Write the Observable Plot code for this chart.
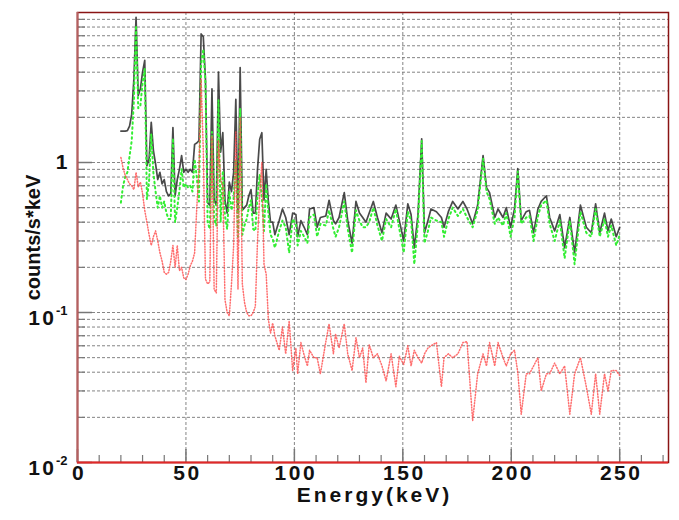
<!DOCTYPE html>
<html>
<head>
<meta charset="utf-8">
<script src="https://cdn.jsdelivr.net/npm/d3@7"></script>
<script src="https://cdn.jsdelivr.net/npm/@observablehq/plot@0.6"></script>
<style>
  html, body { margin: 0; padding: 0; background: #fff; }
  #chart svg { display: block; background: #fff; }
</style>
</head>
<body>
<div id="chart"></div>
<script>
// Energy bins (keV)
const energy = [
  20,21,22,23,24,25,26,27,28,29,
  30,31,32,33,34,35,36,37,38,39,
  40,41,42,43,44,45,46,47,48,49,
  50,51,52,53,54,55,56,57,58,59,
  60,61,62,63,64,65,66,67,68,69,
  70,71,72,73,74,75,76,77,78,79,
  80,81,82,83,84,85,86,87,88,89,
  90,
  91,93,94.5,96,97.6,99.2,100.7,101.5,103,104.5,
  106,107,109,110.5,112,114.5,116,118,119,120.6,
  123,124.6,126.6,128.4,130,131.5,133,134.5,136.4,138.3,
  140.4,142.3,144.6,146.8,148.4,150.4,152.3,153.8,155.3,157,
  158.7,160,161.6,163,165.5,167.8,169,171,173,175.4,
  177.7,179.6,182.2,184.5,187,188.6,190,192.4,193.9,196.2,
  197.7,199.7,201.5,203,204.6,206.9,208.4,210.3,212.3,213.8,
  216.2,217.7,220,222.4,224.6,227,229.2,231.9,234.6,236.9,
  238.9,240.8,243,244.6,246.1,248.4,250
];

// Total rate (black solid)
const totalRate = [
  1.62,1.62,1.62,1.63,1.75,2.1,3.6,9.3,2.8,3.1,
  4.0,4.8,0.95,1.05,1.85,1.2,0.98,0.77,0.86,0.72,
  0.77,0.64,0.60,0.62,1.71,0.60,0.77,0.90,1.11,0.86,
  0.90,0.86,0.90,0.86,1.32,1.35,1.4,7.2,6.9,3.6,
  0.54,0.52,3.1,0.56,0.52,4.0,1.17,1.58,0.56,0.46,
  0.74,0.64,0.86,2.64,0.46,4.3,0.48,0.50,0.52,0.60,
  0.66,0.46,0.46,0.9,1.43,1.58,0.56,0.90,0.55,0.40,
  0.40,
  0.33,0.41,0.49,0.43,0.33,0.46,0.45,0.32,0.41,0.37,
  0.33,0.49,0.50,0.37,0.43,0.44,0.56,0.41,0.39,0.43,
  0.63,0.41,0.29,0.55,0.46,0.43,0.40,0.46,0.55,0.43,
  0.34,0.46,0.42,0.52,0.41,0.30,0.53,0.45,0.27,0.45,
  1.44,0.34,0.41,0.49,0.47,0.43,0.37,0.47,0.55,0.49,
  0.55,0.49,0.39,0.52,1.11,0.68,0.63,0.43,0.49,0.43,
  0.50,0.37,0.49,0.91,0.41,0.47,0.48,0.34,0.49,0.55,
  0.60,0.43,0.35,0.45,0.27,0.43,0.25,0.52,0.37,0.34,
  0.53,0.34,0.46,0.35,0.42,0.32,0.37
];

// Green dotted component
const greenRate = [
  0.54,0.70,0.80,0.86,1.1,1.4,2.6,8.2,2.3,2.4,
  3.4,4.2,0.57,0.75,1.55,0.85,0.64,0.5,0.6,0.5,
  0.55,0.46,0.42,0.42,1.45,0.40,0.50,0.65,0.9,0.68,
  0.72,0.68,0.70,0.64,1.05,0.8,0.55,4.5,5.7,3.4,
  0.4,0.36,1.6,0.42,0.38,2.6,0.4,0.88,0.44,0.36,
  0.64,0.48,0.58,1.04,0.32,2.3,0.33,0.38,0.42,0.5,
  0.56,0.36,0.35,0.6,0.83,0.58,0.35,0.72,0.46,0.33,
  0.31,
  0.27,0.35,0.41,0.37,0.25,0.42,0.39,0.28,0.35,0.32,
  0.29,0.43,0.45,0.32,0.39,0.38,0.48,0.36,0.32,0.37,
  0.55,0.36,0.25,0.48,0.41,0.37,0.37,0.40,0.50,0.38,
  0.30,0.42,0.37,0.49,0.36,0.25,0.47,0.41,0.21,0.40,
  1.39,0.29,0.35,0.43,0.41,0.40,0.32,0.42,0.50,0.44,
  0.49,0.43,0.37,0.48,1.06,0.64,0.57,0.39,0.43,0.38,
  0.46,0.32,0.43,0.87,0.39,0.43,0.44,0.30,0.44,0.52,
  0.56,0.39,0.30,0.41,0.23,0.41,0.21,0.47,0.34,0.32,
  0.49,0.32,0.42,0.32,0.38,0.28,0.33
];

// Red dotted component
const redRate = [
  1.08,0.92,0.82,0.77,0.72,0.70,0.66,0.86,0.69,0.74,
  0.62,0.48,0.40,0.33,0.28,0.32,0.35,0.30,0.25,0.22,
  0.185,0.18,0.185,0.22,0.28,0.20,0.28,0.19,0.20,0.17,
  0.166,0.18,0.205,0.22,0.25,0.5,0.9,3.6,1.2,0.167,
  0.155,0.16,1.5,0.143,0.135,1.4,0.77,0.70,0.122,0.10,
  0.095,0.155,0.28,1.6,0.143,2.0,0.155,0.117,0.10,0.095,
  0.095,0.10,0.11,0.3,0.6,1.0,0.21,0.18,0.09,0.073,
  0.085,
  0.07,0.056,0.080,0.053,0.088,0.041,0.058,0.039,0.063,0.052,
  0.044,0.056,0.05,0.05,0.039,0.064,0.084,0.053,0.072,0.058,
  0.084,0.053,0.041,0.068,0.050,0.058,0.034,0.061,0.050,0.053,
  0.044,0.035,0.053,0.032,0.051,0.045,0.060,0.044,0.056,0.050,
  0.046,0.053,0.058,0.060,0.063,0.032,0.050,0.053,0.050,0.053,
  0.063,0.064,0.019,0.039,0.053,0.044,0.063,0.044,0.063,0.050,
  0.044,0.053,0.056,0.040,0.021,0.039,0.039,0.044,0.050,0.030,
  0.039,0.039,0.046,0.039,0.044,0.021,0.039,0.050,0.032,0.021,
  0.039,0.021,0.039,0.030,0.041,0.041,0.038
];

// Axis ticks
const xMajorTicks = [0, 50, 100, 150, 200, 250];
const xMinorTicks = [10,20,30,40,60,70,80,90,110,120,130,140,160,170,180,190,210,220,230,240,260,270];
const yMajorTicks = [0.01, 0.1, 1];
const yMinorTicks = [0.02,0.03,0.04,0.05,0.06,0.07,0.08,0.09,0.2,0.3,0.4,0.5,0.6,0.7,0.8,0.9,2,3,4,5,6,7,8,9];
const yPowerLabels = [{v: 0.01, base: "10", exp: "-2"}, {v: 0.1, base: "10", exp: "-1"}];
const yPlainLabels = [{v: 1, text: "1"}];
const xTitle = "Energy(keV)";
const yTitle = "counts/s*keV";

const rows = energy.map((e, i) => ({e, total: totalRate[i], green: greenRate[i], red: redRate[i]}));

const font = "'Liberation Sans', Arial, Helvetica, sans-serif";
const W = 679, H = 520, mL = 77, mR = 11, mT = 12, mB = 58;
const fw = W - mL - mR, fh = H - mT - mB;
const gridStyle = {stroke: "#777", strokeOpacity: 0.9, strokeWidth: 1, strokeDasharray: "3,2"};

const chart = Plot.plot({
  width: W, height: H,
  marginLeft: mL, marginRight: mR, marginTop: mT, marginBottom: mB,
  style: {fontFamily: font, background: "#fff"},
  x: {domain: [0, 272.5], axis: null},
  y: {type: "log", domain: [0.01, 10], axis: null},
  marks: [
    // grid
    Plot.ruleY(yMinorTicks.concat(yMajorTicks), {y: d => d, ...gridStyle}),
    Plot.ruleX(xMajorTicks.slice(1), {x: d => d, ...gridStyle}),
    // ticks
    Plot.tickX(xMajorTicks, {x: d => d, insetTop: fh - 13, stroke: "#777", strokeWidth: 1.5}),
    Plot.tickX(xMinorTicks, {x: d => d, insetTop: fh - 7, stroke: "#777", strokeWidth: 1.2}),
    Plot.tickY(yMajorTicks, {y: d => d, insetRight: fw - 15, stroke: "#777", strokeWidth: 1.5}),
    Plot.tickY(yMinorTicks, {y: d => d, insetRight: fw - 8, stroke: "#777", strokeWidth: 1.2}),
    // data
    Plot.line(rows, {x: "e", y: "total", stroke: "#2a2a2a", strokeWidth: 1.7, strokeOpacity: 0.85}),
    Plot.line(rows, {x: "e", y: "green", stroke: "#33ee33", strokeWidth: 2, strokeDasharray: "1.6,3.4"}),
    Plot.line(rows, {x: "e", y: "red", stroke: "#ff4a4a", strokeWidth: 1.5, strokeOpacity: 0.8, strokeDasharray: "1,1.8"}),
    // frame
    Plot.frame({stroke: "#8a1414", strokeWidth: 1.5}),
    Plot.ruleX([0], {x: d => d, stroke: "#b46060", strokeWidth: 2}),
    Plot.ruleY([0.01], {y: d => d, stroke: "#e02828", strokeWidth: 2}),
    // x tick labels
    Plot.text(xMajorTicks, {x: d => d, frameAnchor: "bottom", dy: 17, dx: 1.5, text: d => String(d),
      fontSize: 21, fontWeight: "bold", fill: "#111"}),
    // y tick labels
    Plot.text(yPlainLabels, {y: "v", frameAnchor: "left", dx: -10, textAnchor: "end", text: "text",
      fontSize: 21, fontWeight: "bold", fill: "#111"}),
    Plot.text(yPowerLabels, {y: "v", frameAnchor: "left", dx: -21, dy: 6, textAnchor: "end", text: "base",
      fontSize: 21, fontWeight: "bold", fill: "#111"}),
    Plot.text(yPowerLabels, {y: "v", frameAnchor: "left", dx: -21.5, dy: -2, textAnchor: "start", text: "exp",
      fontSize: 13, fontWeight: "bold", fill: "#111"}),
    // axis titles
    Plot.text([xTitle], {frameAnchor: "bottom", dy: 39, dx: 1.5, text: d => d, fontSize: 21, fontWeight: "bold",
      fill: "#111"}),
    Plot.text([yTitle], {frameAnchor: "left", dx: -44, rotate: -90, textAnchor: "middle", text: d => d,
      fontSize: 20, fontWeight: "bold", fill: "#111"})
  ]
});

// The reference lettering is horizontally stretched: widen the horizontal labels
const wideTexts = new Set(xMajorTicks.map(String).concat([xTitle, "10"]));
d3.select(chart).selectAll("text").each(function () {
  const t = this.textContent;
  if (t === xTitle) this.style.letterSpacing = "3px";
  else if (wideTexts.has(t)) this.style.letterSpacing = "2.5px";
});
document.getElementById("chart").appendChild(chart);
</script>
</body>
</html>
